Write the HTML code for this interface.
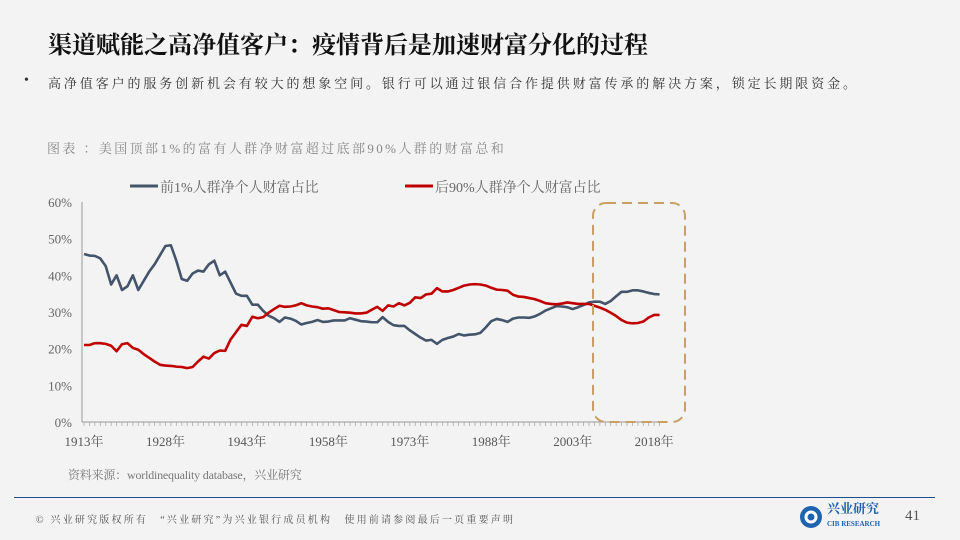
<!DOCTYPE html>
<html><head><meta charset="utf-8">
<style>
html,body{margin:0;padding:0}
body{width:960px;height:540px;background:#f3f3f3;position:relative;overflow:hidden;font-family:"Liberation Serif","Noto Serif CJK SC",serif;color:#333}
.abs{position:absolute;white-space:nowrap}
</style></head><body>
<div class="abs" style="left:48px;top:25px;font-size:24px;font-weight:bold;color:#111;font-family:'Liberation Serif','Noto Serif CJK SC',serif">渠道赋能之高净值客户：疫情背后是加速财富分化的过程</div>
<div class="abs" style="left:24px;top:73px;font-size:14px">•</div>
<div class="abs" style="left:48px;top:73px;font-size:13px;color:#333;letter-spacing:2.9px">高净值客户的服务创新机会有较大的想象空间。银行可以通过银信合作提供财富传承的解决方案，锁定长期限资金。</div>
<div class="abs" style="left:47px;top:138px;font-size:13px;color:#888;letter-spacing:2.4px">图表 ：美国顶部1%的富有人群净财富超过底部90%人群的财富总和</div>
<svg class="abs" style="left:0;top:0" width="960" height="540">
<g id="axes"></g><g id="series"></g>
<rect x="593" y="203" width="92" height="219" rx="13" fill="none" stroke="#c9a063" stroke-width="2" stroke-dasharray="10,6"/>
</svg>
<div class="abs" style="left:68px;top:466px;font-size:12px;color:#777;letter-spacing:-0.2px">资料来源：worldinequality database，兴业研究</div>
<div class="abs" style="left:14px;top:497px;width:921px;height:1px;background:#1f4e8c"></div>
<div class="abs" style="left:36px;top:511px;font-size:10px;color:#555;letter-spacing:2.2px">© 兴业研究版权所有　“兴业研究”为兴业银行成员机构　使用前请参阅最后一页重要声明</div>
<svg class="abs" style="left:799px;top:505px" width="24" height="24"><circle cx="12" cy="12" r="11" fill="#1d63b0"/><circle cx="12" cy="12" r="5" fill="none" stroke="#fff" stroke-width="3"/></svg>
<div class="abs" style="left:827px;top:502px;font-size:13px;color:#1d63b0;font-weight:bold;line-height:13px">兴业研究<br><span style="font-size:7px;line-height:8px">CIB RESEARCH</span></div>
<div class="abs" style="left:905px;top:508px;font-size:15px;color:#555">41</div>
<script>
const years=[];for(let y=1913;y<=2019;y++)years.push(y);
const top1=[45.8,45.4,45.3,44.6,42.5,37.5,40,36,37,40,36,38.5,41,43,45.5,48,48.2,44,39,38.5,40.5,41.3,41,43,44,40,41,38,35,34.4,34.4,32,32,30.3,29,28.3,27.3,28.5,28.2,27.6,26.6,27,27.3,27.8,27.3,27.4,27.7,27.7,27.7,28.3,27.9,27.5,27.4,27.2,27.2,28.6,27.3,26.4,26.2,26.2,25,24,23,22.2,22.4,21.3,22.4,22.9,23.3,24,23.6,23.8,23.9,24.3,25.8,27.5,28.1,27.8,27.3,28.2,28.5,28.5,28.4,28.8,29.5,30.4,31,31.6,31.5,31.3,30.8,31.3,31.9,32.6,32.8,32.8,32.2,33,34.3,35.5,35.5,35.9,35.9,35.6,35.2,34.9,34.8];
const bottom90=[21,21,21.5,21.5,21.3,20.8,19.3,21.2,21.5,20.2,19.7,18.5,17.5,16.5,15.6,15.4,15.3,15.1,15,14.7,15,16.5,17.8,17.3,18.8,19.5,19.4,22.5,24.5,26.5,26.2,28.7,28.3,28.6,29.8,30.8,31.7,31.4,31.5,31.8,32.4,31.8,31.5,31.3,30.9,31,30.5,30,29.9,29.8,29.6,29.6,29.8,30.6,31.4,30.3,31.8,31.5,32.4,31.8,32.5,34,33.8,34.8,35,36.5,35.6,35.6,36,36.6,37.2,37.5,37.6,37.5,37.2,36.6,36.1,36,35.8,34.7,34.2,34.1,33.8,33.5,33,32.4,32.2,32.1,32.3,32.6,32.4,32.2,32.2,32.2,31.7,31.2,30.6,29.8,28.9,27.8,27.1,26.9,27,27.4,28.5,29.2,29.2];
const yTicks=[0,10,20,30,40,50,60];
const xLabelYears=[1913,1928,1943,1958,1973,1988,2003,2018];
const seriesNames=["前1%人群净个人财富占比","后90%人群净个人财富占比"];
const NS="http://www.w3.org/2000/svg";
const X0=84,DX=5.43,Y0=422,YS=3.667;
const xs=y=>X0+(y-years[0])*DX, ys=v=>Y0-v*YS;
const axes=document.getElementById('axes'),ser=document.getElementById('series');
function mk(t,a,p){const e=document.createElementNS(NS,t);for(const k in a)e.setAttribute(k,a[k]);p.appendChild(e);return e;}
let e=mk('line',{x1:82,y1:202,x2:82,y2:Y0,stroke:'#999','stroke-width':1},axes);


e=mk('line',{x1:82,y1:Y0,x2:665,y2:Y0,stroke:'#999','stroke-width':1},axes);


yTicks.forEach(v=>{const t=mk('text',{x:72,y:ys(v)+5,'text-anchor':'end','font-size':13,fill:'#666','font-family':'Liberation Serif, Noto Serif CJK SC, serif'},axes);t.textContent=v+'%';

});
years.forEach(y=>{const l=mk('line',{x1:xs(y),y1:Y0,x2:xs(y),y2:Y0+4,stroke:'#aaa','stroke-width':0.8},axes);

});
xLabelYears.forEach(y=>{const t=mk('text',{x:xs(y),y:446,'text-anchor':'middle','font-size':13,fill:'#555','font-family':'Liberation Serif, Noto Serif CJK SC, serif'},axes);t.textContent=y+'年';

});
const colors=['#44546a','#c00000'];
[top1,bottom90].forEach((arr,i)=>{const p=mk('polyline',{points:arr.map((v,k)=>xs(years[k])+','+ys(v)).join(' '),fill:'none',stroke:colors[i],'stroke-width':2.6,'stroke-linejoin':'round'},ser);


const lx=[130,405][i];
const sw=mk('line',{x1:lx,y1:186,x2:lx+28,y2:186,stroke:colors[i],'stroke-width':3},ser);


const t=mk('text',{x:lx+30,y:192,'font-size':14,fill:'#666','font-family':'Liberation Serif, Noto Serif CJK SC, serif'},ser);t.textContent=seriesNames[i];

});
</script>
</body></html>
